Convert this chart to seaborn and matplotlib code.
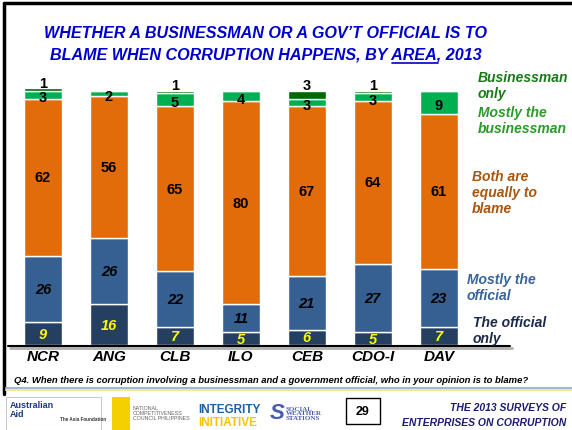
import matplotlib
matplotlib.use("Agg")
import matplotlib.pyplot as plt
import seaborn as sns
import pandas as pd
from matplotlib.lines import Line2D
from matplotlib.patches import Rectangle

# data (percent)
areas = ["NCR", "ANG", "CLB", "ILO", "CEB", "CDO-I", "DAV"]
official_only = [9, 16, 7, 5, 6, 5, 7]
mostly_official = [26, 26, 22, 11, 21, 27, 23]
both_equal = [62, 56, 65, 80, 67, 64, 61]
mostly_business = [3, 2, 5, 4, 3, 3, 9]
business_only = [1, 0, 1, 0, 3, 1, 0]

series_names = ["The official only", "Mostly the official", "Both are equally to blame",
                "Mostly the businessman", "Businessman only"]
series_vals = [official_only, mostly_official, both_equal, mostly_business, business_only]
bar_colors = ["#243f60", "#376092", "#e36c0a", "#00b050", "#006a00"]

sns.set_style("white")
plt.rcParams['font.family'] = ['Liberation Sans', 'DejaVu Sans']

fig = plt.figure(figsize=(5.72, 4.31), dpi=100)
W, H = 572, 431


def fx(px):
    return px / W


def fy(py):
    return 1 - py / H


ax = fig.add_axes([fx(8), fy(346), fx(510) - fx(8), fy(80) - fy(346)])

df = pd.DataFrame({"area": areas})
bottom = [0] * len(areas)
for name, vals, col in zip(series_names, series_vals, bar_colors):
    df[name] = vals
    sns.barplot(data=df, x="area", y=name, order=areas, color=col, width=0.58,
                saturation=1, bottom=bottom, edgecolor="white", linewidth=1.0, ax=ax)
    bottom = [b + v for b, v in zip(bottom, vals)]

ax.set_xlim(-0.53, 7.08)
ax.set_ylim(0, 104.7)
ax.set_xlabel("")
ax.set_ylabel("")
ax.set_yticks([])
ax.set_xticks([])
for s in ["left", "right", "top", "bottom"]:
    ax.spines[s].set_visible(False)

# value labels
cum = [0] * len(areas)
for k, vals in enumerate(series_vals):
    for i, v in enumerate(vals):
        if v > 0:
            mid = cum[i] + v / 2
            if k == 0:
                ax.text(i, mid, str(v), ha="center", va="center", fontsize=10.5,
                        fontweight="bold", style="italic", color="#ffff00")
            elif k == 1:
                ax.text(i, mid, str(v), ha="center", va="center", fontsize=10.5,
                        fontweight="bold", style="italic", color="black")
            elif k == 3:
                ax.text(i, mid - 1.0, str(v), ha="center", va="center", fontsize=10.5,
                        fontweight="bold", color="black")
            elif k == 4:
                ax.text(i, cum[i] + v + 2.2, str(v), ha="center", va="center",
                        fontsize=10.5, fontweight="bold", color="black")
            else:
                ax.text(i, mid, str(v), ha="center", va="center", fontsize=10.5,
                        fontweight="bold", color="black")
        cum[i] += v

# category labels
for i, a in enumerate(areas):
    ax.text(i, -4.5, a, ha="center", va="center", fontsize=11, fontweight="bold",
            style="italic", color="black")

# x axis line with shadow
fig.add_artist(Line2D([fx(10), fx(512)], [fy(348.5), fy(348.5)], color="#b0b0b0", lw=2))
fig.add_artist(Line2D([fx(8), fx(510)], [fy(346.5), fy(346.5)], color="black", lw=1.5))

# slide frame
fig.add_artist(Line2D([fx(3.5), fx(3.5)], [fy(4), fy(395)], color="black", lw=2.5))
fig.add_artist(Line2D([fx(3.5), fx(572)], [fy(4), fy(4)], color="black", lw=2.5))

# title
title_kw = dict(ha="center", va="center", fontsize=11.6, fontweight="bold",
                style="italic", color="#0000cc")
fig.text(fx(266), fy(33), "WHETHER A BUSINESSMAN OR A GOV\u2019T OFFICIAL IS TO", **title_kw)
line2 = fig.text(fx(266), fy(55), "BLAME WHEN CORRUPTION HAPPENS, BY AREA, 2013", **title_kw)

# underline "AREA"
renderer = fig.canvas.get_renderer()
full_bb = line2.get_window_extent(renderer)
tmp = fig.text(0, 0, "BLAME WHEN CORRUPTION HAPPENS, BY ", **{**title_kw, "ha": "left"})
pre_w = tmp.get_window_extent(renderer).width
tmp.set_text("AREA")
area_w = tmp.get_window_extent(renderer).width
tmp.remove()
x0 = full_bb.x0 + pre_w
fig.add_artist(Line2D([x0 / fig.bbox.width, (x0 + area_w) / fig.bbox.width],
                      [fy(63.5), fy(63.5)], color="#0000cc", lw=1.2))

# series labels on the right
leg_kw = dict(ha="left", va="center", fontsize=10, fontweight="bold", style="italic",
              linespacing=1.15)
fig.text(fx(478), fy(86), "Businessman\nonly", color="#1a7a1a", **leg_kw)
fig.text(fx(478), fy(121), "Mostly the\nbusinessman", color="#2a9a2a", **leg_kw)
fig.text(fx(472), fy(193), "Both are\nequally to\nblame", color="#a8560f", **leg_kw)
fig.text(fx(467), fy(288), "Mostly the\nofficial", color="#3a639a", **leg_kw)
fig.text(fx(473), fy(331), "The official\nonly", color="#1b2a48", **leg_kw)

# question
fig.text(fx(14), fy(381), "Q4. When there is corruption involving a businessman and a government "
         "official, who in your opinion is to blame?", ha="left", va="center", fontsize=6.8,
         fontweight="bold", style="italic", color="black")

# footer separator
fig.add_artist(Line2D([fx(6), fx(572)], [fy(389), fy(389)], color="#9bb7d9", lw=1.5))
fig.add_artist(Line2D([fx(6), fx(572)], [fy(391), fy(391)], color="#f2e6a0", lw=1.5))

# footer logos (approximated with text)
fig.add_artist(Rectangle((fx(6), fy(431)), fx(95), fy(398) - fy(431), transform=fig.transFigure,
                         fill=False, ec="#cccccc", lw=0.8))
fig.text(fx(10), fy(410), "Australian\nAid", ha="left", va="center", fontsize=6.5,
         fontweight="bold", color="#1f3a7a", linespacing=0.95)
fig.text(fx(60), fy(420), "The Asia Foundation", ha="left", va="center", fontsize=3.3,
         fontweight="bold", color="#333333")
fig.add_artist(Rectangle((fx(112), fy(431)), fx(18), fy(398) - fy(431), transform=fig.transFigure,
                         color="#f5d000", lw=0))
fig.text(fx(133), fy(414), "NATIONAL\nCOMPETITIVENESS\nCOUNCIL PHILIPPINES", ha="left",
         va="center", fontsize=3.8, color="#666666", linespacing=1.0)
fig.text(fx(198), fy(410), "INTEGRITY", ha="left", va="center", fontsize=8.5,
         fontweight="bold", color="#1f5fa0")
fig.text(fx(198), fy(423), "INITIATIVE", ha="left", va="center", fontsize=8.5,
         fontweight="bold", color="#f5c400")
fig.text(fx(270), fy(414), "S", ha="left", va="center", fontsize=16, fontweight="bold",
         style="italic", color="#4a5bb0")
fig.text(fx(286), fy(414), "SOCIAL\nWEATHER\nSTATIONS", ha="left", va="center", fontsize=5,
         fontweight="bold", color="#4a5bb0", family="Liberation Serif", linespacing=0.95)
fig.add_artist(Rectangle((fx(346), fy(425)), fx(34), fy(399) - fy(425), transform=fig.transFigure,
                         fill=False, ec="black", lw=1))
fig.text(fx(363), fy(412), "29", ha="center", va="center", fontsize=9, fontweight="bold",
         color="black")
fig.text(fx(566), fy(408), "THE 2013 SURVEYS OF", ha="right", va="center", fontsize=7.5,
         fontweight="bold", style="italic", color="#1c1c6c")
fig.text(fx(566), fy(423), "ENTERPRISES ON CORRUPTION", ha="right", va="center", fontsize=7.5,
         fontweight="bold", style="italic", color="#1c1c6c")

fig.savefig("out.png", dpi=100)
